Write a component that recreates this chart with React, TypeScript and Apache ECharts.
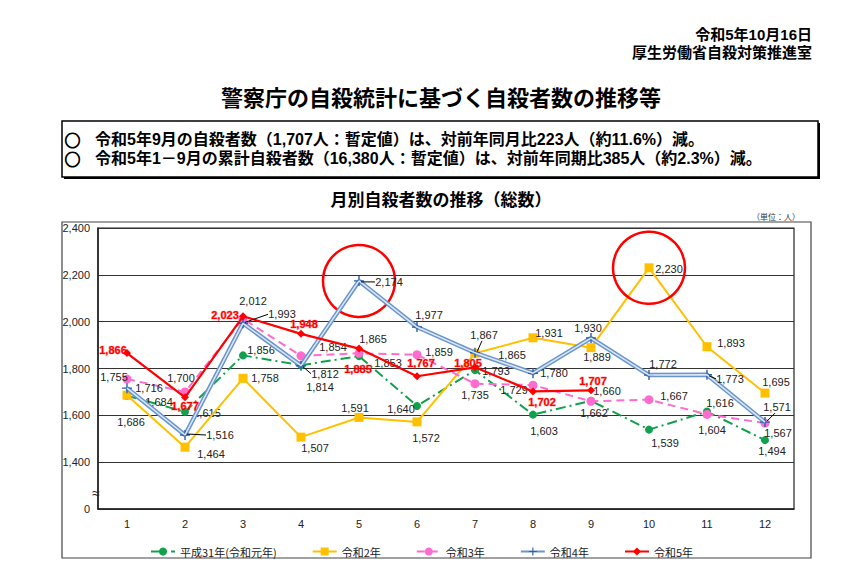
import React, { useEffect, useRef } from "react";
import * as echarts from "echarts";

const months = ["1", "2", "3", "4", "5", "6", "7", "8", "9", "10", "11", "12"];
const h31 = [1684, 1615, 1856, 1814, 1853, 1640, 1793, 1603, 1662, 1539, 1616, 1494];
const r2 = [1686, 1464, 1758, 1507, 1591, 1572, 1865, 1931, 1889, 2230, 1893, 1695];
const r3 = [1755, 1700, 2012, 1854, 1865, 1859, 1735, 1729, 1660, 1667, 1604, 1567];
const r4 = [1716, 1516, 1993, 1812, 2174, 1977, 1867, 1780, 1930, 1772, 1773, 1571];
const r5 = [1866, 1677, 2023, 1948, 1885, 1767, 1805, 1702, 1707];
const seriesNames = ["平成31年(令和元年)", "令和2年", "令和3年", "令和4年", "令和5年"];

// label placement (style only)
const greenOff = [[32, 6], [22, 1], [18, -5], [19, 22], [29, 7], [-16, 3], [21, 1], [11, 16], [3, 12], [16, 13], [13, -9], [7, 11]];
const yellowOff = [[4, 27], [26, 7], [22, 0], [14, 11], [-4, -9], [9, 16], [37, 2], [16, -5], [6, 9], [20, 1], [24, -4], [11, -11]];
const pinkOff = [[-13, -2], [-4, -14], [10, -18], [32, -9], [14, -14], [22, -3], [0, 11], [-19, 5], [16, -10], [25, -4], [5, 16], [13, 10]];
const blueOff = [[22, 0], [35, 0], [39, -9], [24, 8], [30, 1], [12, -12], [9, -18], [21, 0], [-3, -10], [14, -11], [23, 4], [12, -15]];
const redOff = [[-14, -3], [0, 9], [-18, -1], [3, -10], [-1, 20], [4, -13], [-7, -4], [9, 11], [2, -9]];
// which blue labels have a leader line
const blueLeaders = [1, 2, 3, 4, 6, 10, 11];

const NUM_FONT = '"Liberation Sans", Arial, "Noto Sans CJK JP", sans-serif';
const JP_FONT = '"Noto Sans CJK JP", "Liberation Sans", sans-serif';

const fmt = (v: number) => v.toLocaleString("en-US");

function build(values: number[], offs: number[][]) {
  return values.map((v, i) => ({ value: v, label: { offset: offs[i] } }));
}

function txt(x: number, y: number, text: string, font: string, align = "left", fill = "#000", extra: any = {}) {
  return {
    type: "text",
    x,
    y,
    style: {
      text,
      font,
      fill,
      align,
      verticalAlign: "middle",
      textAlign: align,
      textVerticalAlign: "middle",
      ...extra,
    },
  };
}

export default function App() {
  const ref = useRef<HTMLDivElement>(null);
  useEffect(() => {
    if (!ref.current) return;
    const chart = echarts.init(ref.current, null, { renderer: "svg" });
    const baseLabel = {
      show: true,
      position: "inside",
      fontSize: 11,
      color: "#222",
      fontFamily: NUM_FONT,
      formatter: (p: any) => fmt(p.value),
    };
    const staticGraphics: any[] = [
      txt(812, 34, "令和5年10月16日", `bold 15px ${NUM_FONT}`, "right"),
      txt(812, 52, "厚生労働省自殺対策推進室", `bold 15px ${NUM_FONT}`, "right"),
      txt(441, 96, "警察庁の自殺統計に基づく自殺者数の推移等", `bold 22px ${JP_FONT}`, "center"),
      {
        type: "rect",
        shape: { x: 64, y: 123, width: 756, height: 56 },
        style: { fill: "#000" },
      },
      {
        type: "rect",
        shape: { x: 62, y: 121, width: 756, height: 56 },
        style: { fill: "#fff", stroke: "#000", lineWidth: 1.5 },
      },
      txt(65, 149, "◯\n◯", `bold 15px ${JP_FONT}`, "left", "#000", {
        lineHeight: 19,
        stroke: "#000",
        lineWidth: 1,
      }),
      txt(95, 139, "令和5年9月の自殺者数（1,707人：暫定値）は、対前年同月比223人（約11.6%）減。", `bold 16px ${NUM_FONT}`),
      txt(95, 158, "令和5年1－9月の累計自殺者数（16,380人：暫定値）は、対前年同期比385人（約2.3%）減。", `bold 16px ${NUM_FONT}`),
      txt(441, 198, "月別自殺者数の推移（総数）", `bold 17px ${JP_FONT}`, "center"),
      txt(800, 216, "（単位：人）", `8px ${JP_FONT}`, "right", "#333"),
      {
        type: "rect",
        shape: { x: 62, y: 222, width: 749, height: 336 },
        style: { fill: "none", stroke: "#444", lineWidth: 1.2 },
      },
      txt(96, 493, "≈", `14px ${NUM_FONT}`, "center", "#222"),
    ];
    const option: any = {
      animation: false,
      backgroundColor: "#fff",
      grid: {
        left: 98,
        right: 67,
        top: 228,
        bottom: 57,
        show: true,
        borderColor: "#222",
        borderWidth: 1.2,
      },
      legend: {
        data: seriesNames,
        left: 145,
        top: 541,
        itemGap: 35,
        itemWidth: 24,
        itemHeight: 10,
        textStyle: { fontSize: 11, color: "#222", fontFamily: JP_FONT },
      },
      xAxis: {
        type: "category",
        data: months,
        boundaryGap: true,
        axisLine: { lineStyle: { color: "#222", width: 1.5 } },
        axisTick: { inside: true, length: 4, lineStyle: { color: "#222" } },
        axisLabel: { fontSize: 11, color: "#222", margin: 9, fontFamily: NUM_FONT },
      },
      yAxis: {
        type: "value",
        min: 1200,
        max: 2400,
        interval: 200,
        axisLine: { show: true, lineStyle: { color: "#222", width: 1.5 } },
        axisTick: { show: false },
        splitLine: { lineStyle: { color: "#333", width: 1.2 } },
        axisLabel: {
          fontSize: 11,
          color: "#222",
          margin: 8,
          fontFamily: NUM_FONT,
          formatter: (v: number) => (v === 1200 ? "0" : fmt(v)),
        },
      },
      series: [
        {
          name: seriesNames[0],
          type: "line",
          data: build(h31, greenOff),
          symbol: "circle",
          symbolSize: 8,
          itemStyle: { color: "#11a04c" },
          lineStyle: { color: "#11a04c", width: 2, type: [10, 4, 2, 4] },
          label: baseLabel,
          z: 2,
        },
        {
          name: seriesNames[1],
          type: "line",
          data: build(r2, yellowOff),
          symbol: "rect",
          symbolSize: 9,
          itemStyle: { color: "#ffc000" },
          lineStyle: { color: "#ffc000", width: 2 },
          label: baseLabel,
          markPoint: {
            symbol: "circle",
            symbolSize: 72,
            silent: true,
            itemStyle: { color: "rgba(0,0,0,0)", borderColor: "#ff0000", borderWidth: 2.5 },
            label: { show: false },
            data: [{ coord: [9, r2[9]] }],
          },
          z: 3,
        },
        {
          name: seriesNames[2],
          type: "line",
          data: build(r3, pinkOff),
          symbol: "circle",
          symbolSize: 9,
          itemStyle: { color: "#ff6ccf" },
          lineStyle: { color: "#ff6ccf", width: 2, type: [8, 5] },
          label: baseLabel,
          z: 4,
        },
        {
          name: seriesNames[3],
          type: "line",
          data: build(r4, blueOff),
          symbol: "path://M4.3,0H5.7V4.3H10V5.7H5.7V10H4.3V5.7H0V4.3H4.3Z",
          symbolSize: 10,
          itemStyle: { color: "#2d5ea8" },
          lineStyle: { color: "#6a95cf", width: 4.5 },
          label: baseLabel,
          markPoint: {
            symbol: "circle",
            symbolSize: 72,
            silent: true,
            itemStyle: { color: "rgba(0,0,0,0)", borderColor: "#ff0000", borderWidth: 2.5 },
            label: { show: false },
            data: [{ coord: [4, r4[4]] }],
          },
          z: 5,
        },
        {
          name: "令和4年inner",
          type: "line",
          data: r4,
          symbol: "none",
          silent: true,
          lineStyle: { color: "#dce8f6", width: 1.5 },
          label: { show: false },
          z: 6,
        },
        {
          name: seriesNames[4],
          type: "line",
          data: build(r5, redOff),
          symbol: "diamond",
          symbolSize: 8,
          itemStyle: { color: "#ff0000" },
          lineStyle: { color: "#ff0000", width: 2.2 },
          label: {
            ...baseLabel,
            color: "#ff0000",
            fontWeight: "bold",
            textBorderColor: "rgba(255,0,0,0.35)",
            textBorderWidth: 1,
          },
          z: 7,
        },
      ],
      graphic: staticGraphics,
    };
    chart.setOption(option);

    // leader lines for some blue labels, computed from the data through the chart's scales
    const leaders: any[] = blueLeaders.map((i) => {
      const p = chart.convertToPixel({ seriesIndex: 3 }, [i, r4[i]]) as number[];
      const off = blueOff[i];
      const cx = p[0] + off[0];
      const cy = p[1] + off[1];
      let end: number[];
      if (Math.abs(off[0]) < 15) {
        end = [cx - 2, cy + 6];
      } else {
        end = [cx - 14, cy];
      }
      return {
        type: "line",
        z: 100,
        shape: { x1: p[0] + 2, y1: p[1] + (end[1] > p[1] ? 1 : -1), x2: end[0], y2: end[1] },
        style: { stroke: "#000", lineWidth: 1 },
      };
    });
    chart.setOption({ graphic: [...staticGraphics, ...leaders] });
    return () => chart.dispose();
  }, []);
  return (
    <div
      ref={ref}
      style={{ position: "fixed", left: 0, top: 0, width: 861, height: 566 }}
    />
  );
}
